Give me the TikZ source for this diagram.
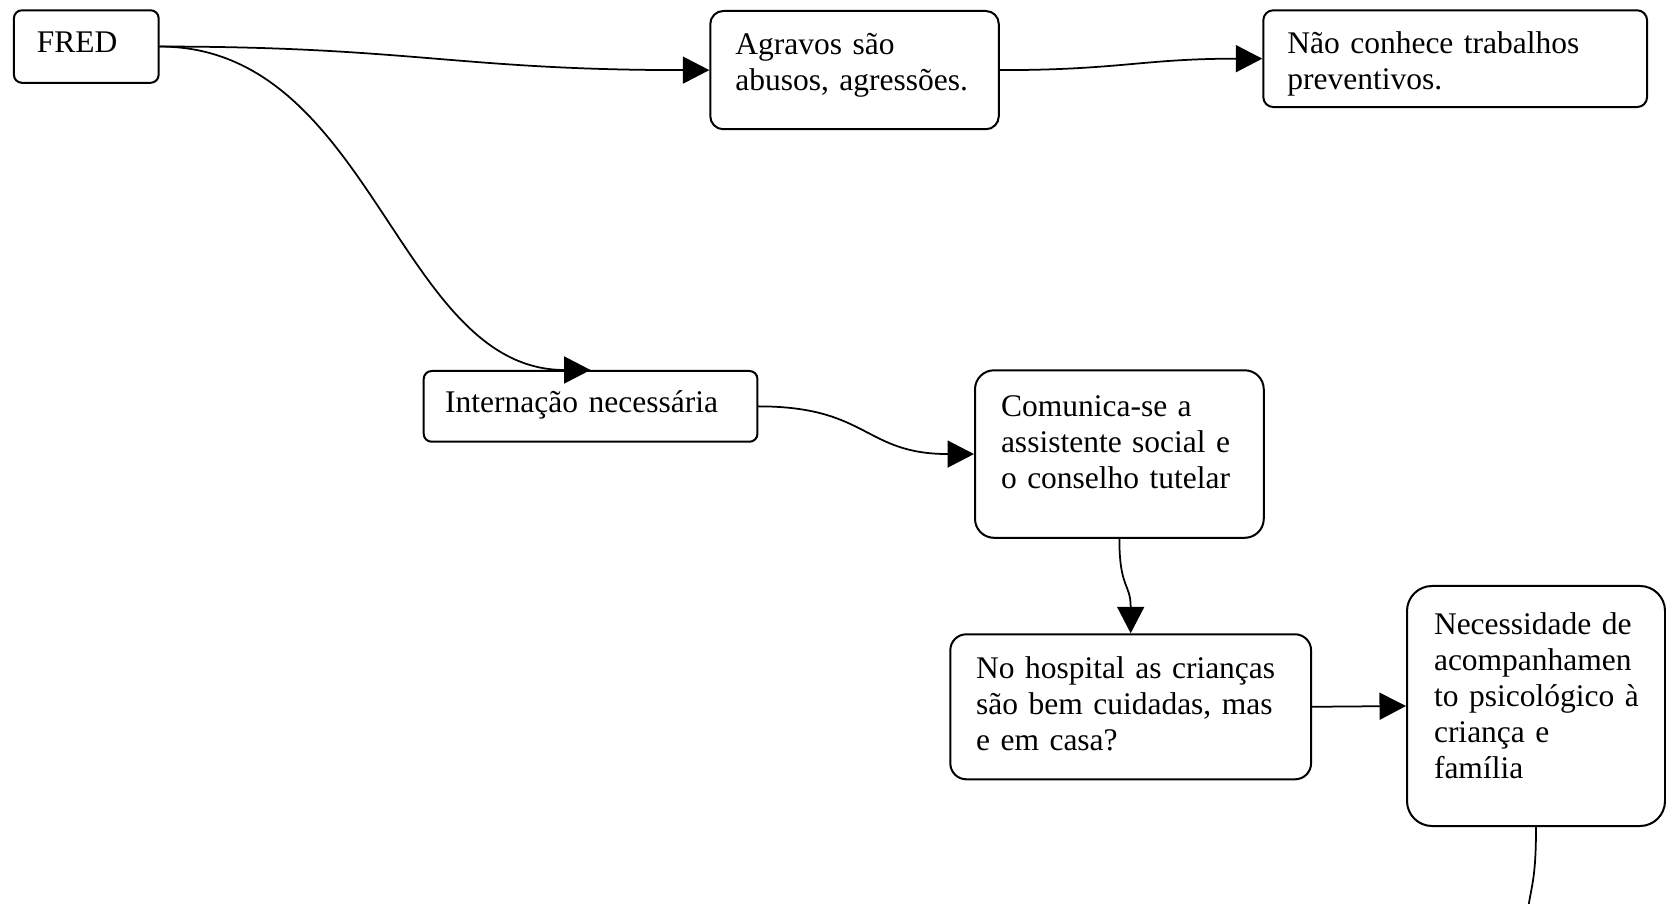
\documentclass[tikz,border=0pt]{standalone}
\usepackage{fontspec}
\setmainfont{Liberation Serif}
\usetikzlibrary{arrows.meta}

\begin{document}
\begin{tikzpicture}[x=0.4pt,y=-0.4pt,>={Triangle[length=10.6pt,width=10.8pt]},
  font=\fontsize{12.6}{14.4}\selectfont,line cap=round,
  box/.style={draw,line width=0.8pt,anchor=north west,align=left,inner ysep=0pt},
  link/.style={->,line width=0.7pt}]
\useasboundingbox (0,0) rectangle (1666,904);
\node[box,rounded corners=3.2pt,text width=39.5pt,inner xsep=9.2pt,text height=16.7pt,text depth=12.3pt] (fred) at (12.9,9.3) {FRED};
\node[box,rounded corners=5.2pt,text width=95.4pt,inner xsep=10pt,text height=17.6pt,text depth=29.7pt] (agr) at (709.3,10) {Agravos são\\abusos, agressões.};
\node[box,rounded corners=4pt,text width=134.3pt,inner xsep=9.6pt,text height=17.4pt,text depth=21.3pt] (nao) at (1262.3,9.3) {Não conhece trabalhos\\preventivos.};
\node[box,rounded corners=3.2pt,text width=116.3pt,inner xsep=8.6pt,text height=16.7pt,text depth=11.6pt] (intern) at (422.7,370) {Internação necessária};
\node[box,rounded corners=7.6pt,text width=94.7pt,inner xsep=10.4pt,text height=18.5pt,text depth=48.5pt] (com) at (974,369.3) {Comunica-se a\\assistente social e\\o conselho tutelar};
\node[box,rounded corners=6.4pt,text width=123.7pt,inner xsep=10.3pt,text height=17.6pt,text depth=40.4pt] (hosp) at (949.3,633.3) {No hospital as crianças\\são bem cuidadas, mas\\e em casa?};
\node[box,rounded corners=10pt,text width=81.6pt,inner xsep=10.8pt,text height=19.4pt,text depth=76.6pt] (nec) at (1406,585) {Necessidade de\\acompanhamen\\\mbox{to psicológico à}\\criança e\\família};
\coordinate (nxt) at (1526,925);
% connectors
\draw[link] (fred.east) .. controls +(250,0) and +(-250,0) .. (agr.west);
\draw[link] (fred.east) .. controls +(213,0) and +(-193,0) .. (intern.north);
\draw[link] (agr.east) .. controls +(120,0) and +(-120,0) .. (nao.west);
\draw[link] (intern.east) .. controls +(110,0) and +(-110,0) .. (com.west);
\draw[link] (com.south) .. controls +(0,50) and +(0,-50) .. (hosp.north);
\draw[link] (hosp.east) -- (nec.west);
\draw[line width=0.7pt] (nec.south) .. controls +(0,60) and +(4,-40) .. (nxt);
\end{tikzpicture}
\end{document}
